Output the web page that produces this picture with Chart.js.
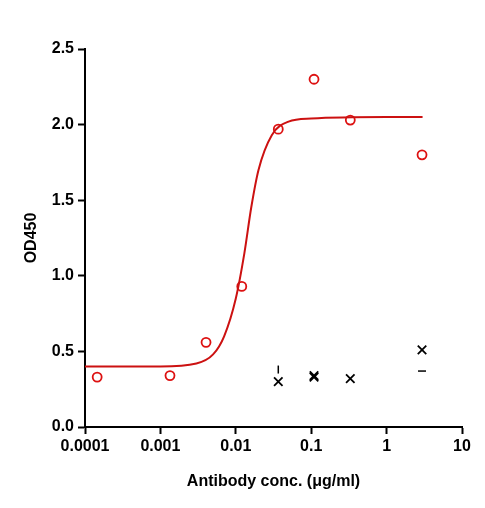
<!DOCTYPE html>
<html><head><meta charset="utf-8">
<script src="https://cdn.jsdelivr.net/npm/chart.js@4/dist/chart.umd.min.js"></script>
<style>html,body{margin:0;padding:0;background:#fff}#w{width:485px;height:508px}</style>
</head><body><div id="w"><canvas id="c"></canvas></div>
<script>
const concRed=[0.000145,0.00134,0.00403,0.012,0.0366,0.109,0.33,2.95];
const odRed=[0.33,0.34,0.56,0.93,1.97,2.30,2.03,1.80];
const concBlack=[0.0366,0.109,0.109,0.33,2.95];
const odBlack=[0.30,0.33,0.34,0.32,0.51];
const concDash=[0.0366,2.95];
const odDash=[0.38,0.37];
const dashRot=[90,0];
const curveX=[0.0001,0.001,0.003,0.005,0.007,0.01,0.013,0.016,0.02,0.03,0.05,0.1,1,3];
const curveY=[0.40,0.40,0.42,0.48,0.60,0.85,1.15,1.45,1.70,1.93,2.02,2.04,2.05,2.05];
const xTicks=[0.0001,0.001,0.01,0.1,1,10];
const xLabels=['0.0001','0.001','0.01','0.1','1','10'];
const toPts=(xs,ys)=>xs.map((x,i)=>({x,y:ys[i]}));
const F={family:'"Liberation Sans", Arial, sans-serif',size:16,weight:'bold'};
new Chart(document.getElementById('c'),{
 type:'scatter',
 data:{datasets:[
  {data:toPts(curveX,curveY),showLine:true,borderColor:'#cc1111',borderWidth:2,pointRadius:0,cubicInterpolationMode:'monotone'},
  {data:toPts(concRed,odRed),pointStyle:'circle',pointRadius:4.5,borderColor:'#dd1111',backgroundColor:'rgba(0,0,0,0)',borderWidth:1.8},
  {data:toPts(concBlack,odBlack),pointStyle:'crossRot',pointRadius:6,borderColor:'#000',borderWidth:1.8},
  {data:toPts(concDash,odDash),pointStyle:'line',pointRadius:4,rotation:dashRot,borderColor:'#000',borderWidth:1.5}
 ]},
 options:{responsive:true,maintainAspectRatio:false,animation:false,
  layout:{padding:{top:49,right:23,left:18,bottom:13}},
  plugins:{legend:{display:false},tooltip:{enabled:false}},
  scales:{
   x:{type:'logarithmic',min:0.0001,max:10,
    afterBuildTicks:s=>{s.ticks=xTicks.map(v=>({value:v}));},
    afterFit:s=>{s.height=68;},
    grid:{display:true,drawOnChartArea:false,drawTicks:true,tickLength:7,tickColor:'#000',tickWidth:2},
    border:{color:'#000',width:2},
    ticks:{color:'#000',font:F,padding:3,maxRotation:0,autoSkip:false,callback:(v,i)=>xLabels[i]},
    title:{display:true,text:'Antibody conc. (μg/ml)',color:'#000',font:F,padding:{top:4}}},
   y:{min:0,max:2.5,
    afterFit:s=>{s.width=67;},
    grid:{display:true,drawOnChartArea:false,drawTicks:true,tickLength:7,tickColor:'#000',tickWidth:2},
    border:{color:'#000',width:2},
    ticks:{stepSize:0.5,color:'#000',font:F,padding:4,callback:v=>v.toFixed(1)},
    title:{display:true,text:'OD450',color:'#000',font:F,padding:{bottom:2}}}
  }}
});
</script></body></html>
